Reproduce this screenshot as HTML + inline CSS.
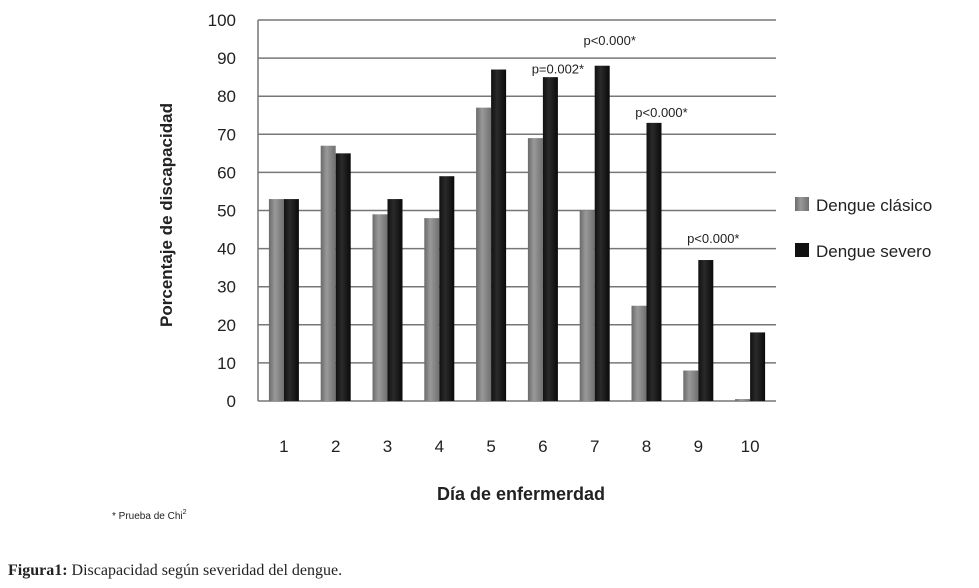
<!DOCTYPE html>
<html><head><meta charset="utf-8"><style>
body{margin:0;background:#fff;width:979px;height:588px;overflow:hidden;font-family:"Liberation Sans",sans-serif}
svg{position:absolute;left:0;top:0}
</style></head><body>
<svg id="c" width="979" height="588">
<defs>
<linearGradient id="gg" x1="0" x2="1"><stop offset="0" stop-color="#6a6a6a"/><stop offset="0.4" stop-color="#999"/><stop offset="1" stop-color="#707070"/></linearGradient>
<linearGradient id="gb" x1="0" x2="1"><stop offset="0" stop-color="#111"/><stop offset="0.4" stop-color="#2a2a2a"/><stop offset="1" stop-color="#0a0a0a"/></linearGradient>
</defs>
<g id="grid"></g><g id="bars"></g><g id="labels"></g>
<text x="172" y="215" transform="rotate(-90 172 215)" text-anchor="middle" font-size="17" font-weight="bold" fill="#222">Porcentaje de discapacidad</text>
<text x="521" y="500" text-anchor="middle" font-size="18" font-weight="bold" fill="#222">Día de enfermerdad</text>
<rect x="795" y="197" width="14" height="14" fill="url(#gg)"/>
<text x="816" y="211" font-size="17" fill="#222">Dengue clásico</text>
<rect x="795" y="243" width="14" height="14" fill="#111"/>
<text x="816" y="257" font-size="17" fill="#222">Dengue severo</text>
<text x="112" y="519" font-size="10" fill="#222">* Prueba de Chi<tspan font-size="7" dy="-5">2</tspan></text>
<text x="8" y="575" font-size="16" font-family="Liberation Serif,serif" fill="#222"><tspan font-weight="bold">Figura1:</tspan> Discapacidad según severidad del dengue.</text>
</svg>
<script>
const categories=["1","2","3","4","5","6","7","8","9","10"];
const clasico=[53,67,49,48,77,69,50,25,8,0.5];
const severo=[53,65,53,59,87,85,88,73,37,18];
const yTicks=[0,10,20,30,40,50,60,70,80,90,100];
const pLabels=[null,null,null,null,null,"p=0.002*","p<0.000*","p<0.000*","p<0.000*",null];
const pLabelValues=[null,null,null,null,null,86,93.4,74.5,41.5,null];
const NS="http://www.w3.org/2000/svg";
const L=258,R=776,T=20,B=401;
const y=v=>B-(v/100)*(B-T);
const cx=i=>L+(i+0.5)*(R-L)/categories.length;
function mk(t,a,p){const e=document.createElementNS(NS,t);for(const k in a)e.setAttribute(k,a[k]);p.appendChild(e);return e;}
const grid=document.getElementById('grid'),bars=document.getElementById('bars'),lab=document.getElementById('labels');
yTicks.forEach(v=>{
 const l=mk('line',{x1:L,x2:R,y1:y(v),y2:y(v),stroke:'#777','stroke-width':1.5},grid);
 
 
 const t=mk('text',{x:L-22,y:y(v)+6,'text-anchor':'end','font-size':17,fill:'#222'},grid);
 t.textContent=v;
 
 
});
const ax=mk('line',{x1:L,x2:L,y1:T,y2:B,stroke:'#777','stroke-width':1.5},grid);


const bw=15;
categories.forEach((c,i)=>{
 const x=cx(i);
 const g=mk('rect',{x:x-bw,y:y(clasico[i]),width:bw,height:B-y(clasico[i]),fill:'url(#gg)'},bars);
 
 
 const b=mk('rect',{x:x,y:y(severo[i]),width:bw,height:B-y(severo[i]),fill:'url(#gb)'},bars);
 
 
 const t=mk('text',{x:x,y:452,'text-anchor':'middle','font-size':17,fill:'#222'},lab);
 t.textContent=c;
 
 
 if(pLabels[i]){
  const p=mk('text',{x:x+15,y:y(pLabelValues[i]),'text-anchor':'middle','font-size':13,fill:'#222'},lab);
  p.textContent=pLabels[i];
  
  
 }
});
</script>
</body></html>
